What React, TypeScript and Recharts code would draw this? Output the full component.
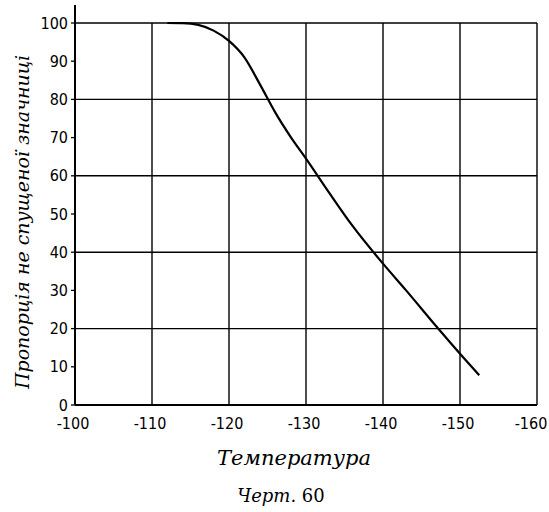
import React from 'react';
import { LineChart, Line, XAxis, YAxis, ReferenceLine } from 'recharts';

const temperatures = [-112, -114, -116, -118, -120, -122, -124, -126, -128, -130, -133, -136, -140, -143, -147, -150, -152.5];
const proportions = [100, 99.95, 99.5, 98, 95.3, 91, 84, 76.6, 70.2, 64.5, 55.6, 47, 37, 30, 20.4, 13.4, 7.8];

const xTicks = [-100, -110, -120, -130, -140, -150, -160];
const yTicks = [0, 10, 20, 30, 40, 50, 60, 70, 80, 90, 100];
const gridY = [20, 40, 60, 80, 100];
const gridX = [-110, -120, -130, -140, -150, -160];

const yTitle = 'Пропорція не спущеної значниці';
const xTitle = 'Температура';
const captionWord = 'Черт.';
const captionNum = '60';

const data = temperatures.map((t, i) => ({ t, p: proportions[i] }));

const tickFont = { fontFamily: 'DejaVu Sans Condensed, DejaVu Sans', fontSize: 16, fill: '#000' };

const XTick = (props: any) => {
  const { x, y, payload, index } = props;
  const shift = index === xTicks.length - 1 ? -6 : -2;
  return (
    <text x={x + shift} y={y} dy="0.71em" textAnchor="middle" style={tickFont}>
      {String(payload.value)}
    </text>
  );
};

const YTitle = (props: any) => {
  const vb = props.viewBox || {};
  const cx = vb.x + 22;
  const cy = vb.y + vb.height / 2 + 8;
  return (
    <text x={cx} y={cy} transform={`rotate(-90, ${cx}, ${cy})`} textAnchor="middle" dominantBaseline="central"
      style={{ fontFamily: 'DejaVu Serif', fontStyle: 'italic', fontSize: 19, fill: '#000' }}>
      {yTitle}
    </text>
  );
};

const XTitle = (props: any) => {
  const vb = props.viewBox || {};
  const cx = vb.x + vb.width / 2;
  return (
    <g>
      <text x={cx - 12} y={vb.y + 60} textAnchor="middle"
        style={{ fontFamily: 'DejaVu Serif', fontStyle: 'italic', fontSize: 21, fill: '#000' }}>
        {xTitle}
      </text>
      <text x={cx - 25} y={vb.y + 97} textAnchor="middle"
        style={{ fontFamily: 'DejaVu Serif', fontSize: 18, fill: '#000' }}>
        <tspan style={{ fontStyle: 'italic' }}>{captionWord}</tspan>
        <tspan> {captionNum}</tspan>
      </text>
    </g>
  );
};

export default function App() {
  return (
    <div style={{ position: 'absolute', left: 0, top: 0, width: 549, height: 512, background: '#fff' }}>
      <LineChart width={549} height={512} data={data} margin={{ top: 23, right: 12, left: 0, bottom: 0 }}>
        <XAxis
          dataKey="t"
          type="number"
          domain={[-160, -100]}
          reversed
          ticks={xTicks}
          interval={0}
          height={107}
          tickLine={false}
          tickMargin={7}
          axisLine={{ stroke: '#000', strokeWidth: 2 }}
          tick={<XTick />}
          label={<XTitle />}
        />
        <YAxis
          type="number"
          domain={[0, 100]}
          ticks={yTicks}
          interval={0}
          width={75}
          tickSize={4}
          tickMargin={3}
          tickLine={{ stroke: '#000', strokeWidth: 1.3 }}
          axisLine={{ stroke: '#000', strokeWidth: 2 }}
          tick={tickFont}
          label={<YTitle />}
        />
        {gridY.map((v) => (
          <ReferenceLine key={'gy' + v} y={v} stroke="#000" strokeWidth={1.4} ifOverflow="visible" />
        ))}
        {gridX.map((v) => (
          <ReferenceLine key={'gx' + v} x={v} stroke="#000" strokeWidth={1.4} ifOverflow="visible" />
        ))}
        <ReferenceLine
          segment={[{ x: -100, y: 100 }, { x: -100, y: 104.7 }]}
          stroke="#000"
          strokeWidth={2}
          ifOverflow="visible"
        />
        <Line
          dataKey="p"
          type="monotone"
          stroke="#000"
          strokeWidth={2.2}
          dot={false}
          isAnimationActive={false}
        />
      </LineChart>
    </div>
  );
}
